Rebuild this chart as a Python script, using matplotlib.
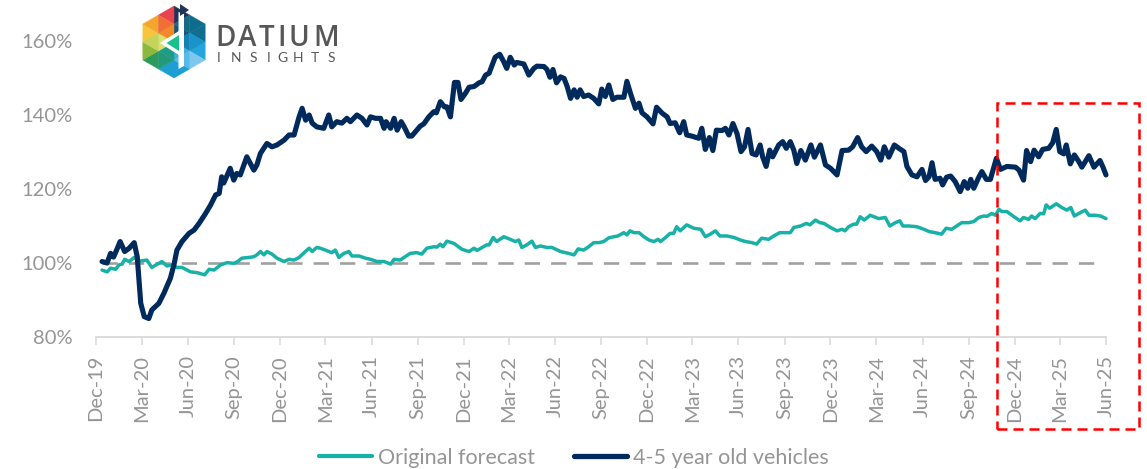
import matplotlib
matplotlib.use("Agg")
import matplotlib.pyplot as plt
import pandas as pd
from matplotlib.patches import Polygon, Rectangle
from matplotlib.lines import Line2D

plt.rcParams['font.family'] = ['Lato', 'DejaVu Sans']

# ---------------- data ----------------
START = pd.Timestamp('2019-12-01')   # day 0 = Dec-19 tick

navy_days = [12, 22, 29, 35, 41, 48, 57, 66, 76, 82, 89, 96, 105, 111, 125, 135, 148, 155, 161, 171,
             185, 195, 205, 218, 228, 238, 245, 250, 254, 267, 274, 280, 287, 300, 314, 320, 327, 340,
             350, 360, 374, 384, 394, 404, 410, 417, 424, 430, 439, 453, 463, 469, 479, 489, 499, 506,
             519, 529, 539, 546, 556, 566, 573, 577, 586, 593, 599, 607, 613, 622, 628, 638, 645, 652,
             662, 672, 677, 685, 693, 698, 705, 713, 720, 726, 735, 742, 752, 762, 768, 775, 782, 788,
             794, 803, 811, 817, 824, 832, 837, 851, 861, 871, 877, 891, 897, 903, 909, 916, 924, 931,
             937, 944, 951, 957, 963, 970, 980, 990, 1000, 1006, 1013, 1020, 1028, 1036, 1050, 1056,
             1063, 1073, 1080, 1086, 1096, 1108, 1115, 1126, 1136, 1142, 1152, 1161, 1169, 1175, 1185,
             1199, 1205, 1212, 1220, 1227, 1234, 1245, 1252, 1259, 1267, 1275, 1283, 1290, 1297, 1305,
             1313, 1321, 1326, 1333, 1340, 1346, 1358, 1366, 1373, 1381, 1388, 1394, 1402, 1411, 1422,
             1429, 1441, 1451, 1461, 1474, 1484, 1497, 1505, 1515, 1523, 1532, 1543, 1553, 1561, 1568,
             1577, 1588, 1597, 1607, 1613, 1623, 1633, 1643, 1650, 1657, 1663, 1669, 1679, 1684, 1692,
             1700, 1709, 1719, 1727, 1734, 1740, 1746, 1756, 1762, 1771, 1779, 1791, 1799, 1812, 1829,
             1836, 1845, 1851, 1859, 1866, 1875, 1883, 1895, 1903, 1910, 1917, 1925, 1930, 1938, 1946,
             1955, 1961, 1975, 1985, 1997, 2003, 2009]
navy_vals = [100.4, 100.0, 102.6, 101.6, 103.5, 105.8, 103.1, 104.0, 105.5, 101.7, 89.1, 85.5, 85.0, 87.3,
             89.1, 91.8, 95.9, 99.5, 103.5, 105.8, 108.0, 108.9, 110.7, 113.4, 115.7, 118.4, 118.8, 123.3,
             121.6, 125.6, 122.4, 124.2, 123.8, 128.7, 125.1, 126.5, 129.6, 132.3, 131.4, 131.9, 133.2,
             134.6, 134.6, 139.5, 141.8, 138.6, 140.0, 137.8, 136.8, 136.4, 140.0, 136.8, 138.2, 137.8,
             139.1, 138.2, 140.0, 139.1, 137.3, 139.5, 139.1, 139.1, 136.4, 138.2, 136.4, 139.1, 135.9,
             138.2, 136.8, 134.3, 134.3, 135.9, 137.0, 137.6, 139.5, 140.9, 140.6, 143.6, 142.2, 142.2,
             139.5, 148.8, 148.8, 144.2, 145.9, 147.5, 147.7, 148.7, 149.0, 150.8, 151.3, 153.5, 155.6,
             156.4, 154.4, 152.6, 155.6, 153.5, 154.2, 153.8, 150.8, 152.6, 153.2, 153.1, 152.3, 150.2,
             152.3, 148.7, 150.3, 149.9, 147.8, 144.5, 146.8, 144.8, 146.8, 145.0, 145.4, 144.5, 143.0,
             147.0, 145.0, 148.1, 144.2, 144.8, 144.8, 149.1, 145.9, 141.8, 143.2, 140.6, 139.5, 137.6,
             142.1, 140.5, 139.5, 137.7, 137.9, 135.2, 138.2, 134.6, 134.3, 133.7, 136.4, 130.7, 133.9,
             130.4, 135.9, 135.8, 136.4, 134.6, 137.7, 135.0, 130.1, 131.4, 136.1, 129.6, 129.2, 131.9,
             128.7, 126.1, 130.5, 128.7, 131.9, 132.8, 131.0, 132.8, 130.5, 126.9, 130.4, 127.8, 131.9,
             128.6, 131.9, 126.5, 125.6, 123.8, 130.4, 130.5, 131.4, 133.9, 131.4, 130.1, 131.6, 130.1,
             127.8, 131.4, 128.6, 131.9, 131.0, 130.1, 126.1, 123.8, 123.3, 125.3, 122.3, 123.3, 127.1,
             122.6, 122.9, 121.1, 123.2, 123.5, 122.0, 119.3, 122.0, 120.2, 122.6, 120.2, 123.2, 124.7,
             122.6, 122.6, 128.3, 125.3, 126.1, 125.9, 125.1, 122.4, 130.4, 127.4, 130.5, 128.7, 130.7,
             131.0, 132.5, 136.1, 130.1, 129.5, 131.9, 126.8, 129.2, 127.4, 125.9, 129.0, 125.9, 127.7,
             125.9, 123.8]

teal_days = [12, 22, 29, 39, 46, 52, 57, 66, 76, 86, 101, 111, 121, 131, 141, 151, 161, 171, 188, 201,
             216, 225, 235, 248, 261, 274, 282, 290, 304, 314, 320, 327, 334, 340, 350, 360, 374, 384,
             394, 404, 414, 424, 430, 439, 446, 456, 469, 476, 483, 493, 503, 509, 523, 536, 546, 559,
             573, 586, 593, 605, 625, 638, 648, 658, 672, 678, 685, 690, 698, 712, 728, 742, 752, 758,
             768, 777, 782, 790, 797, 811, 824, 834, 841, 847, 857, 867, 874, 884, 897, 907, 924, 934,
             951, 959, 970, 980, 990, 1000, 1010, 1020, 1030, 1038, 1050, 1056, 1062, 1070, 1080, 1090,
             1100, 1110, 1118, 1123, 1133, 1142, 1149, 1155, 1162, 1175, 1189, 1203, 1212, 1222, 1232,
             1241, 1255, 1269, 1282, 1292, 1305, 1314, 1324, 1338, 1348, 1360, 1371, 1381, 1388, 1401,
             1413, 1420, 1431, 1440, 1448, 1461, 1474, 1484, 1490, 1497, 1507, 1513, 1520, 1528, 1540,
             1557, 1570, 1579, 1590, 1599, 1605, 1617, 1633, 1647, 1657, 1669, 1682, 1691, 1702, 1712,
             1722, 1736, 1746, 1756, 1766, 1772, 1782, 1789, 1796, 1802, 1812, 1826, 1838, 1845, 1855,
             1861, 1868, 1878, 1885, 1890, 1897, 1910, 1921, 1931, 1939, 1946, 1955, 1968, 1975, 1988,
             1998, 2009]
teal_vals = [98.1, 97.6, 98.6, 98.3, 99.5, 99.7, 101.0, 100.4, 101.5, 100.5, 100.8, 98.8, 99.6, 100.4,
             99.2, 99.5, 98.8, 98.8, 97.6, 97.4, 96.8, 98.3, 98.1, 99.5, 100.1, 99.9, 100.4, 101.3, 101.5,
             101.7, 102.2, 103.1, 102.2, 103.1, 102.4, 101.3, 100.4, 101.0, 100.8, 101.5, 102.8, 104.0,
             103.1, 104.2, 104.0, 103.5, 102.8, 103.5, 101.5, 102.6, 103.1, 101.9, 101.9, 101.3, 101.0,
             100.4, 100.4, 99.7, 101.0, 100.8, 102.6, 102.8, 102.4, 104.0, 104.4, 104.3, 105.1, 104.4,
             105.9, 105.3, 103.7, 103.1, 104.0, 103.4, 104.2, 104.9, 104.9, 106.9, 105.8, 107.1, 106.4,
             105.8, 106.2, 104.2, 104.9, 105.9, 104.2, 104.6, 104.2, 104.2, 103.1, 102.8, 102.2, 103.8,
             103.5, 104.4, 105.5, 105.5, 105.8, 106.8, 107.1, 107.3, 108.2, 107.6, 108.7, 108.2, 108.2,
             107.1, 106.2, 105.8, 106.4, 105.8, 106.9, 108.0, 108.0, 109.8, 108.7, 110.3, 109.4, 109.1,
             107.1, 107.8, 108.7, 107.3, 107.3, 106.9, 106.2, 105.8, 105.5, 105.1, 106.7, 106.4, 107.3,
             108.2, 108.2, 108.2, 109.6, 110.0, 110.7, 110.3, 111.6, 110.9, 110.7, 109.6, 108.7, 109.1,
             108.7, 109.8, 110.5, 110.5, 112.5, 111.6, 112.9, 112.0, 112.3, 110.0, 110.9, 111.4, 110.0,
             110.0, 109.8, 109.1, 108.5, 108.2, 107.8, 109.4, 109.1, 110.0, 110.9, 110.9, 111.2, 112.3,
             112.7, 112.6, 113.4, 112.9, 114.5, 113.9, 113.9, 112.5, 111.4, 112.3, 111.8, 112.7, 112.0,
             113.4, 113.3, 115.7, 114.8, 116.0, 115.0, 114.3, 115.0, 112.7, 113.4, 114.3, 112.9, 112.9,
             112.7, 112.0]

baseline_value = 100
y_ticks = [80, 100, 120, 140, 160]
tick_dates = pd.date_range('2019-12-01', '2025-06-01', freq='3MS')
tick_labels = [d.strftime('%b-%y') for d in tick_dates]
highlight_start = pd.Timestamp('2024-10-28')

series_labels = ['Original forecast', '4-5 year old vehicles']

# ---------------- style ----------------
TEAL = '#17B1A7'
NAVY = '#002A5C'
GREY_TXT = '#959595'
AXIS_GREY = '#D9D9D9'

W, H = 1147, 469
fig = plt.figure(figsize=(W / 100, H / 100), dpi=100)
ax = fig.add_axes([96 / W, (H - 337) / H, 1010 / W, 296 / H])

tick_pos = [(d - START).days for d in tick_dates]
x_end = tick_pos[-1]

ax.plot([navy_days[0], teal_days[-1] - 11], [baseline_value] * 2, color='#A0A0A0', lw=1.9,
        linestyle=(0, (5.8, 4.2)), zorder=1, solid_capstyle='butt')
ax.plot(teal_days, teal_vals, color=TEAL, lw=2.5, zorder=2, solid_joinstyle='round',
        solid_capstyle='round', clip_on=False)
ax.plot(navy_days, navy_vals, color=NAVY, lw=3.7, zorder=3, solid_joinstyle='round',
        solid_capstyle='round', clip_on=False)

ax.set_xlim(0, x_end)
ax.set_ylim(80, 160)
ax.set_xticks(tick_pos)
ax.set_xticklabels(tick_labels, rotation=90)
ax.set_yticks(y_ticks)
ax.set_yticklabels([f'{v}%' for v in y_ticks])

for s in ['top', 'right', 'left']:
    ax.spines[s].set_visible(False)
ax.spines['bottom'].set_color(AXIS_GREY)
ax.spines['bottom'].set_linewidth(1.3)
ax.tick_params(axis='x', direction='out', length=6, width=1.1, color=AXIS_GREY,
               labelcolor=GREY_TXT, labelsize=14.5, pad=7)
ax.tick_params(axis='y', length=0, labelcolor=GREY_TXT, labelsize=14.5, pad=17)
ax.patch.set_alpha(0)

# highlight box
x0f = (highlight_start - START).days / x_end
rect = Rectangle((x0f, -0.311), 1.0327 - x0f, 0.79 + 0.311, transform=ax.transAxes,
                 fill=False, edgecolor='#FF0000', lw=1.8, linestyle=(0, (4.0, 2.4)),
                 clip_on=False, zorder=5)
ax.add_patch(rect)

# legend
handles = [Line2D([], [], color=TEAL, lw=3.0, solid_capstyle='round'),
           Line2D([], [], color=NAVY, lw=3.8, solid_capstyle='round')]
leg = fig.legend(handles, series_labels, loc='center', bbox_to_anchor=(0.5, 0.024), ncol=2,
                 frameon=False, fontsize=15.5, handlelength=2.5, handletextpad=0.25,
                 columnspacing=1.8, labelcolor=GREY_TXT)

# ---------------- logo ----------------
ov = fig.add_axes([0, 0, 1, 1], zorder=10)
ov.set_xlim(0, W)
ov.set_ylim(H, 0)
ov.axis('off')
ov.patch.set_alpha(0)

cx, cy, R = 174.0, 42.0, 36.0
hw = R * 0.866
V = [(cx, cy - R), (cx + hw, cy - R / 2), (cx + hw, cy + R / 2), (cx, cy + R),
     (cx - hw, cy + R / 2), (cx - hw, cy - R / 2)]
C = (cx, cy)
sector_colors = [
    ['#12587A', '#1F3558', '#0F6C8C', '#166A86'],   # upper-right
    ['#1480B5', '#0F6F90', '#26A4DC', '#1A93C9'],   # right
    ['#3FAEE0', '#7CC8EE', '#1C9FD6', '#56BAE6'],   # lower-right
    ['#1E9C88', '#1DA0D0', '#2C9A5A', '#229A78'],   # lower-left
    ['#D8E070', '#8DB83E', '#F7C43C', '#C4D45A'],   # left
    ['#F28A2A', '#F4A52E', '#E8434F', '#F06F36'],   # upper-left
]


def mid(a, b):
    return ((a[0] + b[0]) / 2, (a[1] + b[1]) / 2)


for i in range(6):
    a, b = V[i], V[(i + 1) % 6]
    m1, m2, m3 = mid(C, a), mid(a, b), mid(C, b)
    tris = [(C, m1, m3), (m1, a, m2), (m3, m2, b), (m1, m2, m3)]
    for t, col in zip(tris, sector_colors[i]):
        ov.add_patch(Polygon(t, closed=True, facecolor=col, edgecolor=col, lw=0.3))

ov.add_patch(Polygon([(178.5, 12), (184, 14), (184, 66), (178.5, 69)], closed=True,
                     facecolor='white', edgecolor='none'))
ov.add_patch(Polygon([(160, 43), (182, 29), (182, 57)], closed=True, facecolor='white',
                     edgecolor='none'))
ov.add_patch(Polygon([(166.5, 43), (179, 35), (179, 51)], closed=True, facecolor='#18C28C',
                     edgecolor='none'))
ov.add_patch(Polygon([(180, 4), (189, 10), (180, 16)], closed=True, facecolor='#1F3558',
                     edgecolor='none'))

for ch, x in zip('DATIUM', [226, 247, 266.5, 281.5, 298.5, 326.5]):
    ov.text(x, 38, ch, ha='center', va='center', fontsize=20, color='#575757',
            family=['Open Sans', 'DejaVu Sans'], fontweight='semibold')
for ch, x in zip('INSIGHTS', [218.5, 236.5, 253.3, 268.3, 282, 298.5, 315, 331.5]):
    ov.text(x, 58.5, ch, ha='center', va='center', fontsize=10, color='#575757',
            family=['Lato', 'DejaVu Sans'])

fig.savefig('out.png', dpi=100)
